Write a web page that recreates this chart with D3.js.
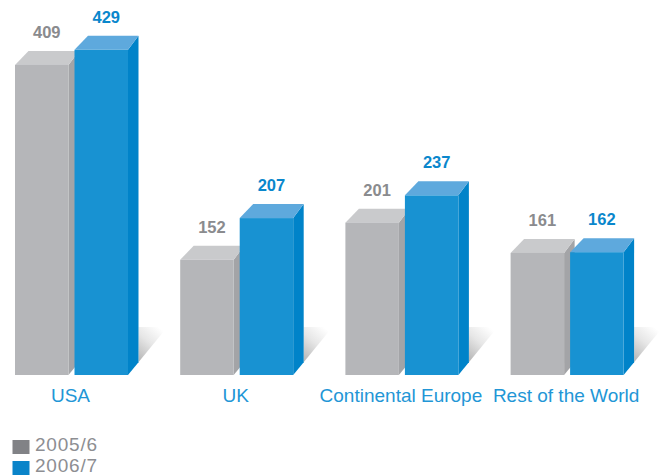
<!DOCTYPE html>
<html>
<head>
<meta charset="utf-8">
<script src="https://cdn.jsdelivr.net/npm/d3@7"></script>
<style>
  html, body { margin: 0; padding: 0; background: #fff; }
  svg { display: block; }
</style>
</head>
<body>
<svg id="chart" width="664" height="476"></svg>
<script>
// Regions and yearly values
const categories = ["USA", "UK", "Continental Europe", "Rest of the World"];
const seriesNames = ["2005/6", "2006/7"];
const values2005 = [409, 152, 201, 161];
const values2006 = [429, 207, 237, 162];

const svg = d3.select("#chart");
const baseY = 375;

// face colours per series: front, top, side
const palette = {
  "2005/6": { front: "#b5b6b9", top: "#c9cacc", side: "#a3a4a7", label: "#8a8b8e", legend: "#818286" },
  "2006/7": { front: "#1892d2", top: "#5ea9dd", side: "#0083c9", label: "#0a87cc", legend: "#0a84c9" }
};

const x0 = d3.scaleBand().domain(categories).range([15, 623.6]).paddingInner(0.316).paddingOuter(0);
const x1 = d3.scaleBand().domain(seriesNames).range([0, x0.bandwidth()]).paddingInner(0.101).paddingOuter(0);
const y = d3.scaleLinear().domain([0, 500]).range([baseY, baseY - 379]);

// depth of the extruded boxes
const depthL = 13.5, depthR = 10.5, depthY = 14;

const rows = categories.map((c, i) => ({
  category: c,
  bars: [
    { series: seriesNames[0], value: values2005[i] },
    { series: seriesNames[1], value: values2006[i] }
  ]
}));

// soft floor shadow
const defs = svg.append("defs");
const grad = defs.append("linearGradient")
  .attr("id", "floorShade")
  .attr("x1", 0.7).attr("y1", 0).attr("x2", 0).attr("y2", 1);
grad.append("stop").attr("offset", 0).attr("stop-color", "#ffffff");
grad.append("stop").attr("offset", 0.45).attr("stop-color", "#e6e6e6");
grad.append("stop").attr("offset", 1).attr("stop-color", "#b3b3b3");

const groups = svg.selectAll("g.region")
  .data(rows)
  .join("g")
  .attr("class", "region")
  .attr("transform", d => `translate(${x0(d.category)},0)`);

// shadow behind the right-hand box of each pair
groups.append("path")
  .attr("d", () => {
    const fr = x1("2006/7") + x1.bandwidth();
    const sx = fr + depthR;
    const slope = 48 / 39.3;
    const yAtSide = baseY - depthR * slope;
    return `M${sx},${baseY - 48}L${fr + 39.3},${baseY - 48}L${sx},${yAtSide}Z`;
  })
  .attr("fill", "url(#floorShade)");

const bars = groups.selectAll("g.bar")
  .data(d => d.bars)
  .join("g")
  .attr("class", "bar");

bars.each(function(d) {
  const g = d3.select(this);
  const c = palette[d.series];
  const xl = x1(d.series);
  const xr = xl + x1.bandwidth();
  const yt = y(d.value);
  // side face
  g.append("path")
    .attr("d", `M${xr},${yt}L${xr + depthR},${yt - depthY}L${xr + depthR},${baseY - depthR * 48 / 39.3}L${xr},${baseY}Z`)
    .attr("fill", c.side);
  // top face
  g.append("path")
    .attr("d", `M${xl},${yt}L${xr},${yt}L${xr + depthR},${yt - depthY}L${xl + depthL},${yt - depthY}Z`)
    .attr("fill", c.top);
  // front face
  g.append("rect")
    .attr("x", xl).attr("y", yt)
    .attr("width", x1.bandwidth()).attr("height", baseY - yt)
    .attr("fill", c.front);
  // value label
  g.append("text")
    .attr("x", xl + x1.bandwidth() / 2 + 5)
    .attr("y", yt - depthY - 13)
    .attr("text-anchor", "middle")
    .attr("font-family", "'Liberation Sans', Arial, sans-serif")
    .attr("font-weight", "bold")
    .attr("font-size", 16.5)
    .attr("fill", c.label)
    .text(d.value);
});

// category labels
groups.append("text")
  .attr("x", x0.bandwidth() / 2 - 1)
  .attr("y", 401.5)
  .attr("text-anchor", "middle")
  .attr("font-family", "'Liberation Sans', Arial, sans-serif")
  .attr("font-size", 19)
  .attr("fill", "#2296d6")
  .text(d => d.category);

// legend
const legend = svg.selectAll("g.legend")
  .data(seriesNames)
  .join("g")
  .attr("class", "legend")
  .attr("transform", (d, i) => `translate(12.5,${440 + i * 21})`);

legend.append("rect")
  .attr("width", 17).attr("height", 14)
  .attr("fill", d => palette[d].legend);

legend.append("text")
  .attr("x", 22.5)
  .attr("y", 10.8)
  .attr("font-family", "'Liberation Sans', Arial, sans-serif")
  .attr("font-size", 19)
  .attr("letter-spacing", 0.8)
  .attr("fill", "#8d8e92")
  .text(d => d);
</script>
</body>
</html>
